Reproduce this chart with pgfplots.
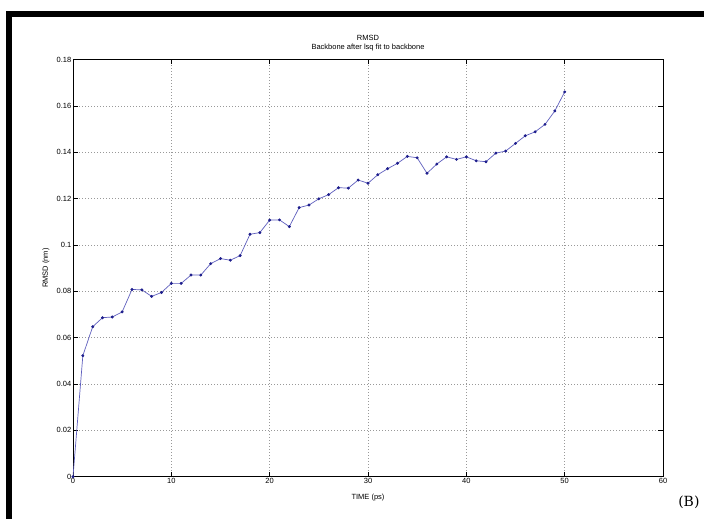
\documentclass[border=0pt]{standalone}
\usepackage{pgfplots}
\pgfplotsset{compat=1.18}
\usepackage{fontspec}
\setmainfont{Liberation Sans}
\newfontfamily\labelfont{DejaVu Serif}
\definecolor{linec}{RGB}{95,95,190}
\definecolor{markc}{RGB}{30,30,140}
\pgfplotstableread{
x y
0 0
1 0.0522
2 0.0647
3 0.0686
4 0.0689
5 0.0711
6 0.0808
7 0.0806
8 0.0778
9 0.0795
10 0.0834
11 0.0834
12 0.0870
13 0.0870
14 0.0919
15 0.0941
16 0.0934
17 0.0954
18 0.1046
19 0.1053
20 0.1107
21 0.1108
22 0.1079
23 0.1161
24 0.1172
25 0.1199
26 0.1217
27 0.1247
28 0.1245
29 0.1280
30 0.1266
31 0.1303
32 0.1329
33 0.1352
34 0.1382
35 0.1376
36 0.1309
37 0.1349
38 0.1380
39 0.1369
40 0.1380
41 0.1363
42 0.1359
43 0.1396
44 0.1405
45 0.1438
46 0.1471
47 0.1488
48 0.1520
49 0.1578
50 0.1660
}\rmsd
\begin{document}
\begin{tikzpicture}
\path[use as bounding box, fill=white] (0,0) rectangle (704bp,519bp);
\fill[black] (6bp,501.7bp) rectangle (704bp,507.5bp);
\fill[black] (6bp,0bp) rectangle (12.3bp,507.5bp);
\begin{axis}[
  at={(73bp,42.3bp)}, anchor=south west,
  scale only axis, width=590bp, height=417.2bp,
  xmin=0, xmax=60, ymin=0, ymax=0.18,
  xtick={0,10,...,60},
  ytick={0,0.02,...,0.18},
  scaled y ticks=false,
  yticklabel style={/pgf/number format/fixed, /pgf/number format/precision=2},
  /pgf/number format/assume math mode=true,
  tick label style={font=\fontsize{7.5bp}{9bp}\selectfont, inner sep=1.5bp},
  label style={font=\fontsize{7.5bp}{9bp}\selectfont},
  tick align=inside,
  major tick length=5bp,
  tick style={black, line width=0.5bp},
  axis line style={black, line width=0.6bp},
  grid=major,
  major grid style={gray!80, line width=0.5bp, dash pattern=on 1bp off 2bp},
  xlabel={TIME (ps)},
  ylabel={RMSD (nm)},
  xlabel style={at={(axis description cs:0.5,0)}, anchor=center, yshift=-21bp},
  ylabel style={at={(axis description cs:-0.046,0.5)}, anchor=center, rotate=0},
  clip=false,
]
\addplot[color=linec, line width=0.7bp, mark=*, mark size=1.1bp,
  mark options={fill=markc, draw=markc}] table[x=x,y=y] {\rmsd};
\node[font=\fontsize{7.5bp}{9bp}\selectfont, align=center, anchor=south]
  at (axis description cs:0.5,1) [yshift=5bp] {RMSD\\Backbone after lsq fit to backbone};
\end{axis}
\node[anchor=base east, font=\labelfont\fontsize{14bp}{16bp}\selectfont] at (703bp,13bp) {(B)};
\end{tikzpicture}
\end{document}
